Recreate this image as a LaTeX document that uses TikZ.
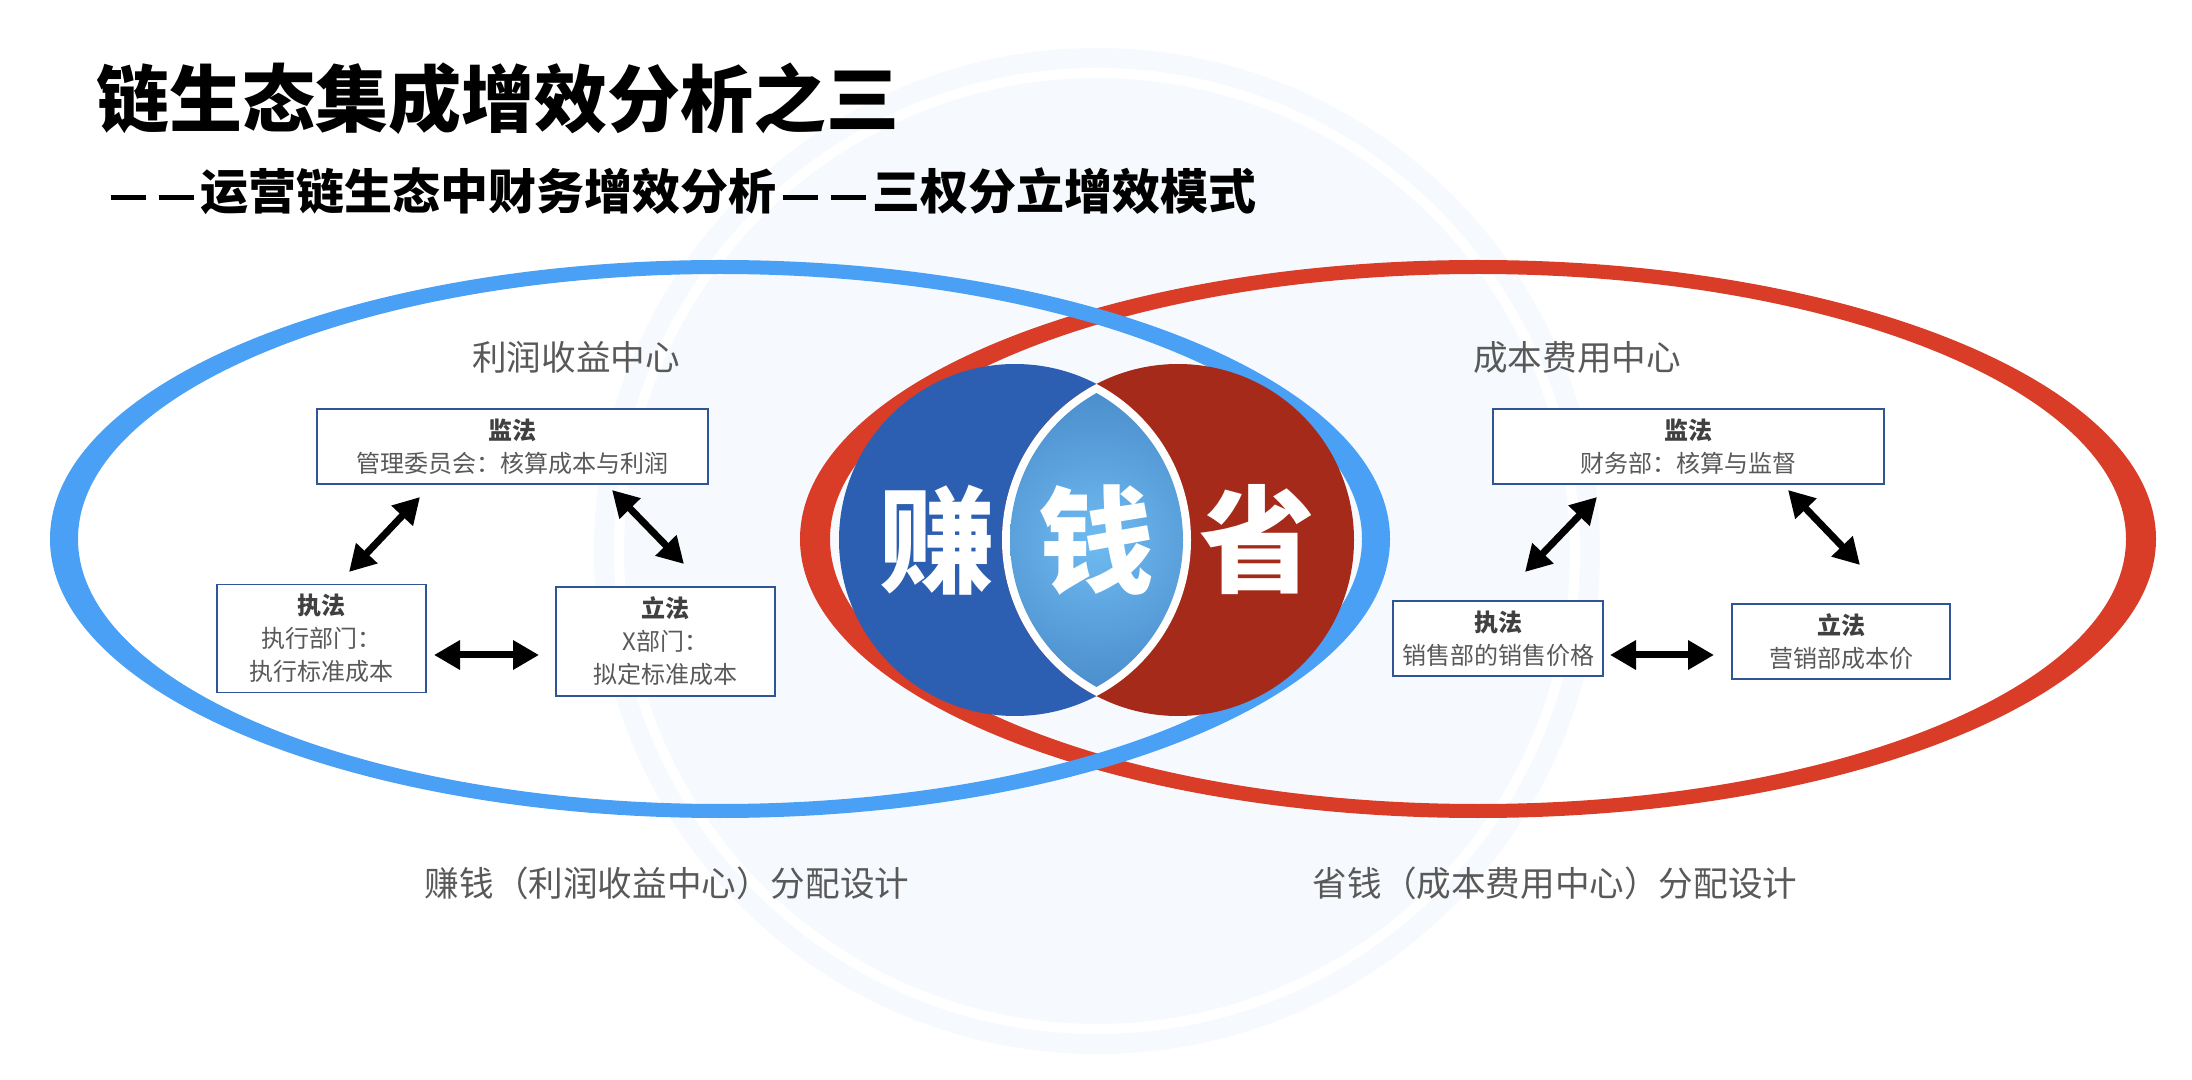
\documentclass[tikz,border=0pt]{standalone}
\usepackage{fontspec}
\setmainfont{Noto Sans CJK SC}
\usetikzlibrary{arrows.meta}
\definecolor{wm}{HTML}{F6FAFE}
\definecolor{blueE}{HTML}{49A0F5}
\definecolor{redE}{HTML}{D93C27}
\definecolor{blueC}{HTML}{2C5FB2}
\definecolor{redC}{HTML}{A52A19}
\definecolor{lensIn}{HTML}{70BBF2}
\definecolor{lensOut}{HTML}{4A8DCB}
\definecolor{boxc}{HTML}{2F5597}
\definecolor{txt}{HTML}{595959}
\definecolor{txtb}{HTML}{404040}
\newcommand{\cjkdash}{\makebox[1em]{\rule[0.2em]{0.72em}{0.1em}}}
\begin{document}
\begin{tikzpicture}[x=0.5pt,y=-0.5pt,
  box/.style={draw=boxc, line width=0.8pt, fill=white, align=center, inner sep=0pt,
    text=txt, font=\fontsize{12}{16.5}\selectfont},
  lbl/.style={text=txt, inner sep=0pt, font=\fontsize{17.3}{20}\selectfont},
  big/.style={text=white, inner sep=0pt, font=\fontsize{58}{60}\selectfont\bfseries},
  dbl/.style={line width=3.5pt, {Triangle[length=13pt,width=14pt]}-{Triangle[length=13pt,width=14pt]}}]
\useasboundingbox (0,0) rectangle (2192,1080);
\fill[white] (0,0) rectangle (2192,1080);
% watermark
\fill[wm] (1097,551) circle (503);
\draw[white, line width=5pt] (1097,551) circle (478);
% ellipses (red below blue)
\fill[redE, even odd rule] (1478,539) ellipse [x radius=678, y radius=279]
  (1478,539) ellipse [x radius=648, y radius=265];
\fill[blueE, even odd rule] (720,539) ellipse [x radius=670, y radius=279]
  (720,539) ellipse [x radius=642, y radius=265];
% circles
\fill[blueC] (1015,540) circle (176);
\fill[redC] (1178,540) circle (176);
\begin{scope}
  \clip (1015,540) circle (176);
  \fill[white] (1178,540) circle (176);
\end{scope}
\begin{scope}
  \clip (1015,540) circle (168);
  \clip (1178,540) circle (168);
  \shade[inner color=lensIn, outer color=lensOut] (1096.5,540) circle (152);
\end{scope}
\node[big] (zhuan) at (937,540) {赚};
\node[big] (qian) at (1096,540) {钱};
\node[big] (sheng) at (1257,540) {省};
% titles
\node[anchor=west, inner sep=0pt, font=\fontsize{36.5}{40}\selectfont\bfseries] (title) at (96,99) {链生态集成增效分析之三};
\node[anchor=west, inner sep=0pt, font=\fontsize{24}{28}\selectfont\bfseries] (sub) at (104,191) {\cjkdash\cjkdash 运营链生态中财务增效分析\cjkdash\cjkdash 三权分立增效模式};
% center labels
\node[lbl] (lc) at (576,357) {利润收益中心};
\node[lbl] (rc) at (1577,357) {成本费用中心};
% left boxes
\node[box, minimum width=195.5pt, minimum height=37.5pt] (Ljian) at (512.5,446.5) {\textbf{\color{txtb}监法}\\管理委员会：核算成本与利润};
\node[box, minimum width=104.75pt, minimum height=54pt] (Lzhi) at (321.5,638.7) {\textbf{\color{txtb}执法}\\执行部门：\\执行标准成本};
\node[box, minimum width=109.5pt, minimum height=54.35pt] (Lli) at (665.5,641.4) {\textbf{\color{txtb}立法}\\X部门：\\拟定标准成本};
% right boxes
\node[box, minimum width=195.5pt, minimum height=37.5pt] (Rjian) at (1688.5,446.5) {\textbf{\color{txtb}监法}\\财务部：核算与监督};
\node[box, minimum width=105pt, minimum height=37.5pt] (Rzhi) at (1498,638.5) {\textbf{\color{txtb}执法}\\销售部的销售价格};
\node[box, minimum width=109pt, minimum height=37.5pt] (Rli) at (1841,641.5) {\textbf{\color{txtb}立法}\\营销部成本价};
% arrow end points
\coordinate (a1s) at (420,497); \coordinate (a1e) at (349,572);
\coordinate (a2s) at (612,490); \coordinate (a2e) at (684,564);
\coordinate (a3s) at (434,655); \coordinate (a3e) at (539,655);
\coordinate (b1s) at (1597,497); \coordinate (b1e) at (1525,572);
\coordinate (b2s) at (1788,490); \coordinate (b2e) at (1860,565);
\coordinate (b3s) at (1610,655); \coordinate (b3e) at (1714,655);
\draw[dbl] (a1s) -- (a1e);
\draw[dbl] (a2s) -- (a2e);
\draw[dbl] (a3s) -- (a3e);
\draw[dbl] (b1s) -- (b1e);
\draw[dbl] (b2s) -- (b2e);
\draw[dbl] (b3s) -- (b3e);
% bottom labels
\node[lbl] (lb) at (667,883) {赚钱（利润收益中心）分配设计};
\node[lbl] (rb) at (1555,883) {省钱（成本费用中心）分配设计};
\end{tikzpicture}
\end{document}
